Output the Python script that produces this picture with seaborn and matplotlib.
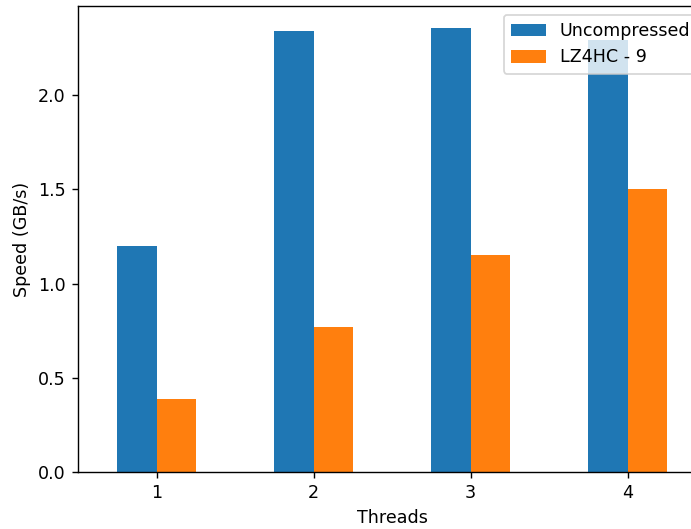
import pandas as pd
import matplotlib
matplotlib.use("Agg")
import matplotlib.pyplot as plt
import seaborn as sns

threads = [1, 2, 3, 4]
uncompressed = [1.20, 2.34, 2.355, 2.29]
lz4hc_9 = [0.39, 0.77, 1.15, 1.50]

df = pd.DataFrame({
    "Threads": threads * 2,
    "Speed": uncompressed + lz4hc_9,
    "Method": ["Uncompressed"] * 4 + ["LZ4HC - 9"] * 4,
})

fig = plt.figure(figsize=(691 / 126, 529 / 126), dpi=126)
# the reference is cropped on the right, so the axes run past the edge
ax = fig.add_axes([78 / 691, 57 / 529, 628 / 691, 466 / 529])

sns.barplot(data=df, x="Threads", y="Speed", hue="Method",
            palette=["#1f77b4", "#ff7f0e"], saturation=1, width=0.5, ax=ax)

ax.set_xlabel("Threads")
ax.set_ylabel("Speed (GB/s)")
ax.legend(title=None, loc="upper right")

fig.savefig("out.png", dpi=126)
